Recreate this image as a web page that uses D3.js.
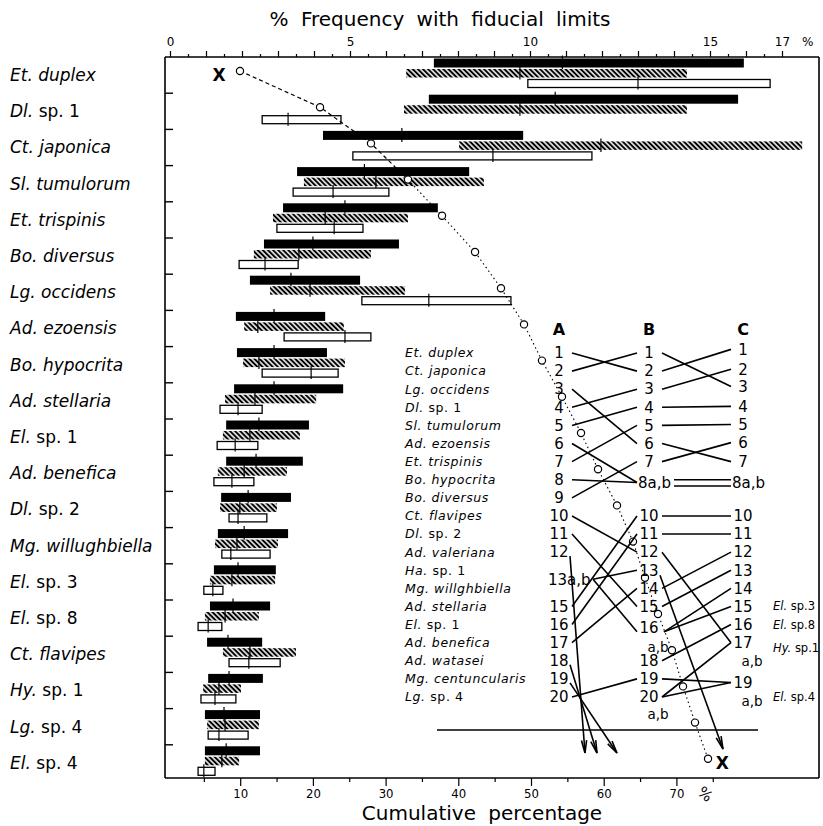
<!DOCTYPE html>
<html><head><meta charset="utf-8">
<script src="https://cdn.jsdelivr.net/npm/d3@7"></script>
<style>body{margin:0;background:#fff}svg{display:block}</style>
</head><body>
<svg id="chart" width="823" height="826"></svg>
<script>
// ---------- DATA ----------
const genus   = ["Et.","Dl.","Ct.","Sl.","Et.","Bo.","Lg.","Ad.","Bo.","Ad.","El.","Ad.","Dl.","Mg.","El.","El.","Ct.","Hy.","Lg.","El."];
const epithet = ["duplex","sp. 1","japonica","tumulorum","trispinis","diversus","occidens","ezoensis","hypocrita","stellaria","sp. 1","benefica","sp. 2","willughbiella","sp. 3","sp. 8","flavipes","sp. 1","sp. 4","sp. 4"];
const species = genus.map((g,i)=>g+" "+epithet[i]);

// black bars (fiducial limits and estimate), % frequency
const blackLo  = [7.33,7.19,4.25,3.53,3.14,2.61,2.22,1.83,1.86,1.78,1.56,1.56,1.42,1.33,1.22,1.11,1.03,1.06,0.97,0.97];
const blackMid = [10.9,10.7,6.44,5.40,4.86,3.97,3.36,2.89,2.89,2.89,2.47,2.39,2.17,2.06,1.89,1.75,1.61,1.64,1.50,1.56];
const blackHi  = [15.94,15.78,9.81,8.31,7.44,6.36,5.28,4.31,4.36,4.81,3.86,3.69,3.36,3.28,2.94,2.78,2.56,2.58,2.50,2.50];
// hatched bars
const hatchLo  = [6.56,6.50,8.03,3.72,2.86,2.33,2.78,2.06,2.03,1.53,1.47,1.33,1.39,1.25,1.11,0.97,1.47,0.92,1.03,0.97];
const hatchMid = [9.72,9.72,11.97,5.72,4.31,3.58,3.89,2.44,2.47,2.36,2.22,2.06,1.94,1.86,1.72,1.53,2.22,1.36,1.53,1.44];
const hatchHi  = [14.36,14.36,17.56,8.72,6.61,5.58,6.53,4.83,4.86,4.06,3.61,3.25,2.97,3.00,2.92,2.47,3.50,1.97,2.47,1.92];
// open bars
const openLo   = [9.94,2.56,5.08,3.42,2.97,1.92,5.33,3.17,2.56,1.39,1.31,1.22,1.64,1.44,0.94,0.78,1.64,0.86,1.06,0.78];
const openMid  = [13.0,3.28,8.97,4.53,4.56,2.64,7.19,4.86,3.92,1.89,1.81,1.72,1.89,1.69,1.19,1.06,2.19,1.25,1.36,0.94];
const openHi   = [16.67,4.75,11.72,6.08,5.36,3.56,9.47,5.58,4.67,2.56,2.44,2.33,2.69,2.78,1.47,1.44,3.06,1.83,2.17,1.25];

// cumulative percentage
const cumulative = [9.97,20.98,27.99,33.08,37.76,42.30,45.87,49.04,51.51,54.26,56.88,59.22,61.83,64.03,65.68,67.47,69.39,70.91,72.56,74.35];
const xMarkCum = [7.1, 76.3];
const xMarkRow = [0, 19];

const freqTicks = [0,5,10,15,17];
const cumTicks  = [10,20,30,40,50,60,70];

// inset: rank comparison of stations A, B, C
const insetGenus   = ["Et.","Ct.","Lg.","Dl.","Sl.","Ad.","Et.","Bo.","Bo.","Ct.","Dl.","Ad.","Ha.","Mg.","Ad.","El.","Ad.","Ad.","Mg.","Lg."];
const insetEpithet = ["duplex","japonica","occidens","sp. 1","tumulorum","ezoensis","trispinis","hypocrita","diversus","flavipes","sp. 2","valeriana","sp. 1","willghbiella","stellaria","sp. 1","benefica","watasei","centuncularis","sp. 4"];
const rankAText = ["1","2","3","4","5","6","7","8","9","10","11","12","13a,b","15","16","17","18","19","20"];
const rankASlot = [0,1,2,3,4,5,6,7,8,9,10,11,12.5,14,15,16,17,18,19];
const rankBText = ["1","2","3","4","5","6","7","8a,b","10","11","12","13","14","15","16","18","19","20"];
const rankBSlot = [0,1,2,3,4,5,6,7.15,9,10,11,12,13,14,15.2,17,18,19];
const rankCText = ["1","2","3","4","5","6","7","8a,b","10","11","12","13","14","15","16","17","19"];
const rankCSlot = [-0.2,0.9,1.85,2.95,3.95,4.95,6,7.15,9,10,11,12,13,14,15,16.0,18.2];
const subText = ["a,b","a,b","a,b","a,b"];
const subCol  = ["B","B","C","C"];
const subSlot = [16.25,19.95,17.05,19.25];
const abFrom = [0,1,2,3,4,5,6,7,8,9,10,12.5,12.5,14,15,16,19];
const abTo   = [1,0,5,2,3,7.15,4,7.15,6,11,14,12,15.4,9,10,13,18];
const aOut   = [11,17,18];
const bcFrom = [0,1,2,3,4,5,6,7.0,7.35,9,10,11,13,14,15.4,15.4,17,18,19,19];
const bcTo   = [1.85,-0.2,0.9,2.95,3.95,6,4.95,7.0,7.35,9,10,16.0,11,12,13,14,15,18.2,16.0,18.2];
const bOut   = [12];
const extraC = ["El. sp.3","El. sp.8","Hy. sp.1","El. sp.4"];
const extraSlot = [14,15,16.3,19];

// ---------- DRAW ----------
const svg = d3.select("#chart");
const FONT = "'DejaVu Sans', sans-serif";
const defs = svg.append("defs");
const pat = defs.append("pattern").attr("id","hatch").attr("patternUnits","userSpaceOnUse")
  .attr("width",3.6).attr("height",3.6).attr("patternTransform","rotate(-45)");
pat.append("rect").attr("width",3.6).attr("height",3.6).attr("fill","#fff");
pat.append("line").attr("x1",1.8).attr("x2",1.8).attr("y1",0).attr("y2",3.6).attr("stroke","#000").attr("stroke-width",2.1);

const L=165, R=819, T=57, B=778;
const x  = d3.scaleLinear().domain([0,17]).range([170,782]);
const xc = d3.scaleLinear().domain([0,75]).range([167.5,712.75]);
const y  = d3.scaleBand().domain(species).range([57,781]).padding(0);

// frame
const fr = svg.append("g").attr("stroke","#000").attr("stroke-width",1.6);
fr.append("line").attr("x1",L).attr("x2",R).attr("y1",T).attr("y2",T);
fr.append("line").attr("x1",L).attr("x2",R).attr("y1",B).attr("y2",B);
fr.append("line").attr("x1",L).attr("x2",L).attr("y1",T).attr("y2",B);
fr.append("line").attr("x1",R).attr("x2",R).attr("y1",T).attr("y2",B);

// top axis
const topAx = d3.axisTop(x).tickValues(d3.range(0,17.01,0.5))
  .tickFormat(d=>freqTicks.includes(d)?d:"").tickSize(6).tickPadding(5);
const gt = svg.append("g").attr("transform",`translate(0,${T})`).call(topAx);
gt.select(".domain").remove();
gt.selectAll(".tick line").attr("y2",d=>Number.isInteger(d)?-6:-3).attr("stroke-width",1.2);
gt.selectAll(".tick text").attr("font-family",FONT).attr("font-size",12).attr("fill","#000").attr("y",-11);
svg.append("text").attr("x",x(17)+20).attr("y",T-11).attr("font-family",FONT).attr("font-size",12).text("%");

// bottom axis
const botAx = d3.axisBottom(xc).tickValues(d3.range(5,76,5))
  .tickFormat(d=>cumTicks.includes(d)?d:"").tickSize(7).tickPadding(4);
const gb = svg.append("g").attr("transform",`translate(0,${B})`).call(botAx);
gb.select(".domain").remove();
gb.selectAll(".tick line").attr("y2",d=>d%10===0?8:4).attr("stroke-width",1.2);
gb.selectAll(".tick text").attr("font-family","'DejaVu Sans Condensed', sans-serif").attr("font-size",13).attr("fill","#000");
svg.append("text").attr("transform",`translate(${xc(73.5)},${B+20}) rotate(40)`).attr("text-anchor","middle")
  .attr("font-family",FONT).attr("font-size",15).text("%");

// titles
svg.append("text").attr("x",440).attr("y",26).attr("text-anchor","middle").attr("font-family",FONT)
  .attr("font-size",20).attr("word-spacing",6).text("% Frequency with fiducial limits");
svg.append("text").attr("x",482).attr("y",820).attr("text-anchor","middle").attr("font-family",FONT)
  .attr("font-size",20).attr("word-spacing",6).text("Cumulative percentage");

// row ticks on left frame
svg.append("g").selectAll("line").data(species.slice(1)).join("line")
  .attr("x1",L).attr("x2",L+8).attr("y1",d=>y(d)).attr("y2",d=>y(d)).attr("stroke","#000").attr("stroke-width",1.4);

// species labels
const lab = svg.append("g").selectAll("text").data(species).join("text")
  .attr("x",10).attr("y",d=>y(d)+y.bandwidth()/2).attr("dy","0.35em")
  .attr("font-family",FONT).attr("font-size",17);
lab.append("tspan").attr("font-style","italic").text((d,i)=>genus[i]+" ");
lab.append("tspan").attr("font-style",(d,i)=>epithet[i].startsWith("sp.")?"normal":"italic").text((d,i)=>epithet[i]);

// bars
const rows = species.map((s,i)=>({s,i}));
const bars = svg.append("g");
function drawSet(lo,mid,hi,dy,h,kind){
  const g = bars.append("g");
  g.selectAll("rect").data(rows).join("rect")
    .attr("x",d=>x(lo[d.i])).attr("width",d=>x(hi[d.i])-x(lo[d.i]))
    .attr("y",d=>y(d.s)+dy).attr("height",h)
    .attr("fill",kind==="black"?"#000":kind==="hatch"?"url(#hatch)":"#fff")
    .attr("stroke",kind==="open"?"#000":"none").attr("stroke-width",1.3);
  g.selectAll("line").data(rows).join("line")
    .attr("x1",d=>x(mid[d.i])).attr("x2",d=>x(mid[d.i]))
    .attr("y1",d=>y(d.s)+dy-3).attr("y2",d=>y(d.s)+dy+h+2)
    .attr("stroke","#000").attr("stroke-width",1.2);
}
drawSet(blackLo,blackMid,blackHi,1.5,9,"black");
drawSet(hatchLo,hatchMid,hatchHi,12,8.5,"hatch");
drawSet(openLo,openMid,openHi,22.5,8,"open");

// cumulative curve
const pts = species.map((s,i)=>[xc(cumulative[i]), y(s)+14]);
const line = d3.line();
svg.append("path").attr("d",line(pts.slice(0,4))).attr("fill","none").attr("stroke","#000")
  .attr("stroke-width",1.2).attr("stroke-dasharray","4,3");
svg.append("path").attr("d",line(pts.slice(3))).attr("fill","none").attr("stroke","#000")
  .attr("stroke-width",1.1).attr("stroke-dasharray","1.5,3");
svg.append("g").selectAll("circle").data(pts).join("circle")
  .attr("cx",d=>d[0]).attr("cy",d=>d[1]).attr("r",3.6).attr("fill","#fff").attr("stroke","#000").attr("stroke-width",1.2);
svg.append("g").selectAll("text").data(xMarkCum).join("text")
  .attr("x",d=>xc(d)).attr("y",(d,i)=>y(species[xMarkRow[i]])+18).attr("dy","0.35em")
  .attr("text-anchor","middle").attr("font-family",FONT).attr("font-weight","bold").attr("font-size",17).text("X");

// ---------- INSET ----------
const iy = d3.scaleLinear().domain([0,19]).range([353,697]);
const colX = {A:559, B:649, C:743};
const ins = svg.append("g");
const il = ins.append("g").selectAll("text").data(insetGenus).join("text")
  .attr("x",405).attr("y",(d,i)=>iy(i)).attr("dy","0.35em")
  .attr("font-family",FONT).attr("font-size",12.5).attr("letter-spacing",0.6);
il.append("tspan").attr("font-style","italic").text(d=>d+" ");
il.append("tspan").attr("font-style",(d,i)=>insetEpithet[i].startsWith("sp.")?"normal":"italic").text((d,i)=>insetEpithet[i]);

["A","B","C"].forEach(c=>ins.append("text").attr("x",colX[c]).attr("y",329).attr("dy","0.35em")
  .attr("text-anchor","middle").attr("font-family",FONT).attr("font-weight","bold").attr("font-size",16).text(c));

function nums(texts,slots,col){
  ins.append("g").selectAll("text").data(texts).join("text")
    .attr("x",d=>d.includes("a,b")?colX[col]-11:colX[col])
    .attr("y",(d,i)=>iy(slots[i])).attr("dy","0.35em")
    .attr("text-anchor",d=>d.includes("a,b")?"start":"middle")
    .attr("font-family",FONT).attr("font-size",15).text(d=>d);
}
nums(rankAText,rankASlot,"A");
nums(rankBText,rankBSlot,"B");
nums(rankCText,rankCSlot,"C");
ins.append("g").selectAll("text").data(subText).join("text")
  .attr("x",(d,i)=>colX[subCol[i]]+9).attr("y",(d,i)=>iy(subSlot[i])).attr("dy","0.35em")
  .attr("text-anchor","middle").attr("font-family",FONT).attr("font-size",13.5).text(d=>d);
const ex = ins.append("g").selectAll("text").data(extraC).join("text")
  .attr("x",773).attr("y",(d,i)=>iy(extraSlot[i])).attr("dy","0.35em")
  .attr("font-family",FONT).attr("font-size",11.5);
ex.append("tspan").attr("font-style","italic").text(d=>d.split(" ")[0]+" ");
ex.append("tspan").text(d=>d.split(" ")[1]);

const lg = ins.append("g").attr("stroke","#000").attr("stroke-width",1.6).attr("fill","none");
const AR=572, BLx=637, BRx=662, CLx=731;
abFrom.forEach((a,i)=>{
  lg.append("line").attr("x1",a===12.5?593:AR).attr("y1",iy(a)).attr("x2",BLx).attr("y2",iy(abTo[i]));
});
bcFrom.forEach((b,i)=>{
  const bx = (b>=7 && b<8)?674:(b===15.4?664:BRx);
  lg.append("line").attr("x1",bx).attr("y1",iy(b)).attr("x2",CLx).attr("y2",iy(bcTo[i]));
});
const tipY = 753;
const outTargets = [585,597,617];
function arrow(x1,y1,x2,y2){
  lg.append("line").attr("x1",x1).attr("y1",y1).attr("x2",x2).attr("y2",y2);
  const ang = Math.atan2(y1-y2,x1-x2), len=13, sp=0.2;
  lg.append("path").attr("d",`M${x2+len*Math.cos(ang-sp)},${y2+len*Math.sin(ang-sp)}L${x2},${y2}L${x2+len*Math.cos(ang+sp)},${y2+len*Math.sin(ang+sp)}`);
}
aOut.forEach((a,i)=>arrow(AR-2,iy(a)+4,outTargets[i],tipY));
bOut.forEach(b=>arrow(BRx-2,iy(b)+5,723,tipY-4));
ins.append("line").attr("x1",437).attr("x2",758).attr("y1",730).attr("y2",730).attr("stroke","#000").attr("stroke-width",1.4);
</script>
</body></html>
